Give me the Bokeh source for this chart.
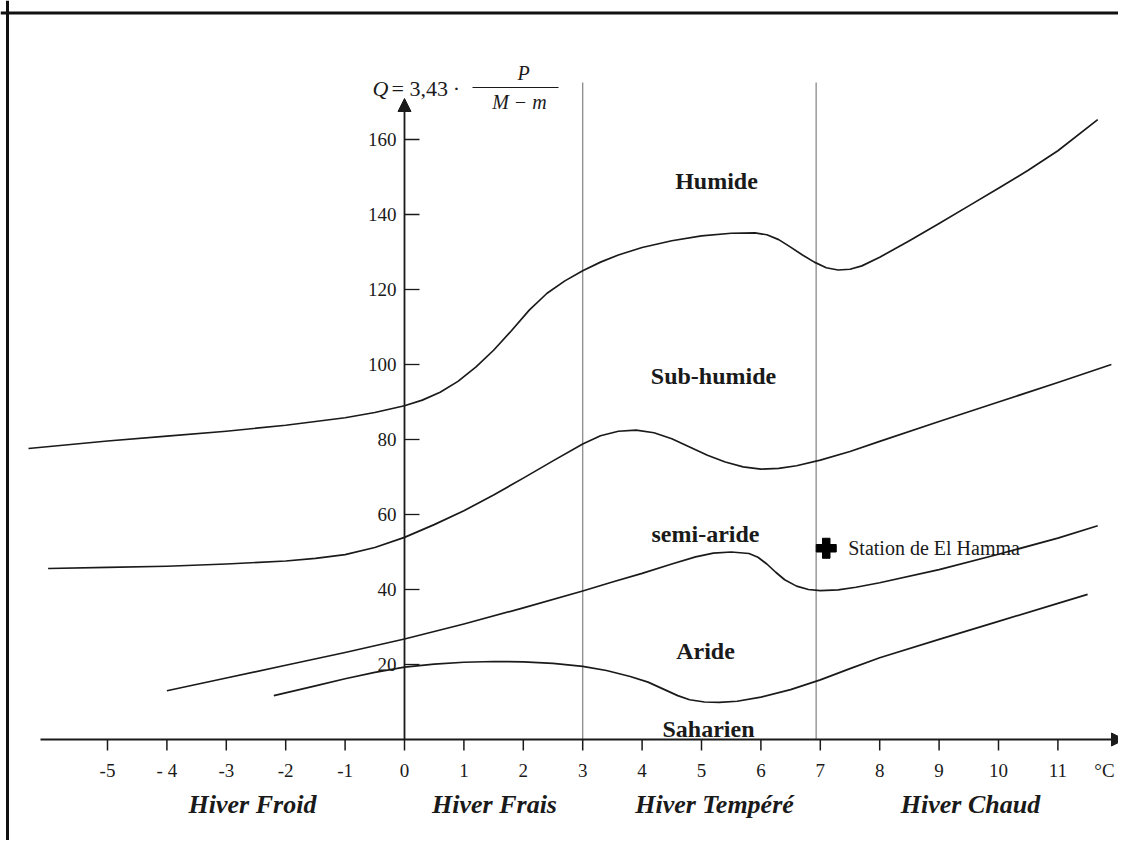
from bokeh.plotting import figure
from bokeh.models import Arrow, NormalHead, Span
from bokeh.embed import file_html
from bokeh.resources import INLINE
from bokeh.core.properties import value

# ---------------- data ----------------
# Humide / Sub-humide boundary
hum_t = [-6.33, -5, -4, -3, -2, -1, -0.5, 0, 0.3, 0.6, 0.9, 1.2, 1.5, 1.8, 2.1, 2.4, 2.7, 3, 3.3, 3.6,
         4, 4.5, 5, 5.5, 5.9, 6.1, 6.3, 6.5, 6.7, 6.9, 7.1, 7.3, 7.5, 7.7, 8, 8.5, 9, 9.5, 10, 10.5,
         11, 11.67]
hum_q = [77.6, 79.6, 80.9, 82.2, 83.8, 85.8, 87.2, 89, 90.5, 92.6, 95.5, 99.3, 103.8, 109, 114.5, 119, 122.3, 125, 127.3, 129.2,
         131.2, 133, 134.3, 135, 135.1, 134.6, 133.3, 131.3, 129.2, 127.3, 125.8, 125.2, 125.4, 126.3, 128.6, 133, 137.6, 142.3, 147, 151.8,
         157, 165.3]
# Sub-humide / semi-aride boundary
sub_t = [-6, -5, -4, -3, -2, -1.5, -1, -0.5, 0, 0.5, 1, 1.5, 2, 2.5, 3, 3.3, 3.6, 3.9, 4.2, 4.5,
         4.8, 5.1, 5.4, 5.7, 6, 6.3, 6.6, 7, 7.5, 8, 9, 10, 11, 11.9]
sub_q = [45.6, 45.9, 46.2, 46.8, 47.6, 48.3, 49.3, 51.2, 53.9, 57.3, 61, 65.2, 69.7, 74.3, 78.8, 81, 82.2, 82.5, 81.8, 80.2,
         78, 75.8, 74, 72.7, 72.1, 72.3, 73, 74.5, 76.8, 79.5, 84.8, 90, 95.2, 100]
# semi-aride / Aride boundary
semi_t = [-4, -3, -2, -1, 0, 1, 2, 3, 3.5, 4, 4.5, 4.9, 5.2, 5.5, 5.8, 5.95, 6.1, 6.25, 6.4, 6.6,
          6.8, 7, 7.3, 7.6, 8, 9, 10, 11, 11.67]
semi_q = [13, 16.4, 19.8, 23.2, 26.8, 30.8, 35.1, 39.6, 42, 44.3, 46.8, 48.7, 49.7, 50, 49.6, 48.6, 46.8, 44.6, 42.6, 40.9,
          40, 39.7, 39.9, 40.6, 41.8, 45.3, 49.4, 53.7, 57]
# Aride / Saharien boundary
ari_t = [-2.2, -1.5, -1, -0.5, 0, 0.5, 1, 1.5, 2, 2.5, 3, 3.4, 3.8, 4.1, 4.35, 4.6, 4.8, 5.05, 5.3, 5.6,
         6, 6.5, 7, 7.5, 8, 9, 10, 11, 11.5]
ari_q = [11.7, 14.3, 16.2, 17.9, 19.3, 20.1, 20.6, 20.8, 20.7, 20.3, 19.5, 18.4, 16.8, 15.3, 13.5, 11.7, 10.6, 10, 9.9, 10.2,
         11.3, 13.3, 15.9, 18.9, 21.8, 26.7, 31.5, 36.3, 38.7]

x_ticks = [-5, -4, -3, -2, -1, 0, 1, 2, 3, 4, 5, 6, 7, 8, 9, 10, 11]
x_tick_labels = ["-5", "- 4", "-3", "-2", "-1", "0", "1", "2", "3", "4", "5", "6", "7", "8", "9", "10", "11"]
y_ticks = [20, 40, 60, 80, 100, 120, 140, 160]
y_tick_labels = ["20", "40", "60", "80", "100", "120", "140", "160"]

winter_limits = [3, 6.93]
winter_names = ["Hiver Froid", "Hiver Frais", "Hiver Tempéré", "Hiver Chaud"]
zone_names = ["Humide", "Sub-humide", "semi-aride", "Aride", "Saharien"]

station_name = "Station de El Hamma"
station_t = [7.1]
station_q = [51]

# ---------------- geometry: picture pixels -> data ----------------
W, H = 1118, 840
X0_PX, PX_PER_T = 404.0, 59.4      # pixel of t = 0, pixels per degree
Y0_PX, PX_PER_Q = 739.0, 3.75      # pixel (from top) of Q = 0, pixels per unit

def tx(px):   # picture x -> t
    return (px - X0_PX) / PX_PER_T

def qy(py):   # picture y -> Q
    return (Y0_PX - py) / PX_PER_Q

x_start, x_end = -X0_PX / PX_PER_T, (W - X0_PX) / PX_PER_T
y_start, y_end = (Y0_PX - H) / PX_PER_Q, Y0_PX / PX_PER_Q

p = figure(width=W, height=H, x_range=(x_start, x_end), y_range=(y_start, y_end),
           output_backend="svg", toolbar_location=None,
           x_axis_location=None, y_axis_location=None, min_border=0,
           outline_line_color=None, background_fill_color="white", border_fill_color="white")
p.xgrid.visible = False
p.ygrid.visible = False

SERIF = value("Liberation Serif")
INK = "#1a1a1a"

# frame lines (left and top)
p.add_layout(Span(location=tx(7), dimension="height", line_color="#111111", line_width=3))
p.add_layout(Span(location=qy(12.5), dimension="width", line_color="#111111", line_width=3))

# winter limits (thin grey verticals)
p.segment(x0=winter_limits, y0=[0] * len(winter_limits), x1=winter_limits,
          y1=[qy(82)] * len(winter_limits), line_color="#8a8a8a", line_width=1.3)

# curves
for t, q in [(hum_t, hum_q), (sub_t, sub_q), (semi_t, semi_q), (ari_t, ari_q)]:
    p.line(t, q, line_color=INK, line_width=1.7, line_join="round")

# axes with arrows
p.add_layout(Arrow(end=NormalHead(size=13, fill_color=INK, line_color=INK),
                   x_start=tx(40), y_start=0, x_end=tx(1124), y_end=0,
                   line_color=INK, line_width=1.8))
p.add_layout(Arrow(end=NormalHead(size=13, fill_color=INK, line_color=INK),
                   x_start=0, y_start=0, x_end=0, y_end=qy(98),
                   line_color=INK, line_width=1.8))

# ticks
tick_len_q = 11 / PX_PER_Q
p.segment(x0=x_ticks, y0=[0] * len(x_ticks), x1=x_ticks, y1=[-tick_len_q] * len(x_ticks),
          line_color=INK, line_width=1.5)
tick_len_t = 15 / PX_PER_T
p.segment(x0=[0] * len(y_ticks), y0=y_ticks, x1=[tick_len_t] * len(y_ticks), y1=y_ticks,
          line_color=INK, line_width=1.3)

# tick labels
p.text(x=x_ticks, y=[qy(770)] * len(x_ticks), text=x_tick_labels, text_align="center",
       text_baseline="middle", text_font=SERIF, text_font_size="19px", text_color=INK)
p.text(x=[tx(1104)], y=[qy(770)], text=["°C"], text_align="center", text_baseline="middle",
       text_font=SERIF, text_font_size="19px", text_color=INK)
p.text(x=[0] * len(y_ticks), y=y_ticks, text=y_tick_labels, text_align="right", text_baseline="middle",
       x_offset=-8, text_font=SERIF, text_font_size="19px", text_color=INK)

# formula
p.text(x=[tx(388)], y=[qy(88)], text=["Q"], text_align="right", text_baseline="middle",
       text_font=SERIF, text_font_size="22px", text_font_style="italic", text_color=INK)
p.text(x=[tx(391)], y=[qy(88)], text=["= 3,43"], text_align="left", text_baseline="middle",
       text_font=SERIF, text_font_size="22px", text_color=INK)
p.text(x=[tx(456)], y=[qy(88)], text=["·"], text_align="center", text_baseline="middle",
       text_font=SERIF, text_font_size="22px", text_color=INK)
p.text(x=[tx(523)], y=[qy(72)], text=["P"], text_align="center", text_baseline="middle",
       text_font=SERIF, text_font_size="20px", text_font_style="italic", text_color=INK)
p.segment(x0=[tx(472)], y0=[qy(87)], x1=[tx(558)], y1=[qy(87)], line_color=INK, line_width=1.2)
p.text(x=[tx(519)], y=[qy(101)], text=["M − m"], text_align="center", text_baseline="middle",
       text_font=SERIF, text_font_size="20px", text_font_style="italic", text_color=INK)

# zone names
zone_px = [(716, 180), (713, 375), (705, 533), (705, 650), (708, 728)]
p.text(x=[tx(a) for a, b in zone_px], y=[qy(b) for a, b in zone_px], text=zone_names,
       text_align="center", text_baseline="middle", text_font=SERIF, text_font_size="24px",
       text_font_style="bold", text_color=INK)

# winter names
winter_px = [(252, 804), (494, 804), (714, 804), (970, 804)]
p.text(x=[tx(a) for a, b in winter_px], y=[qy(b) for a, b in winter_px], text=winter_names,
       text_align="center", text_baseline="middle", text_font=SERIF, text_font_size="26px",
       text_font_style="bold italic", text_color=INK)

# station
p.scatter(x=station_t, y=station_q, marker="plus", size=20, fill_color="black", line_color="black")
p.text(x=[station_t[0]], y=[station_q[0]], text=[station_name], x_offset=22, text_align="left",
       text_baseline="middle", text_font=SERIF, text_font_size="20px", text_color=INK)

open("out.html", "w").write(file_html(p, INLINE))
